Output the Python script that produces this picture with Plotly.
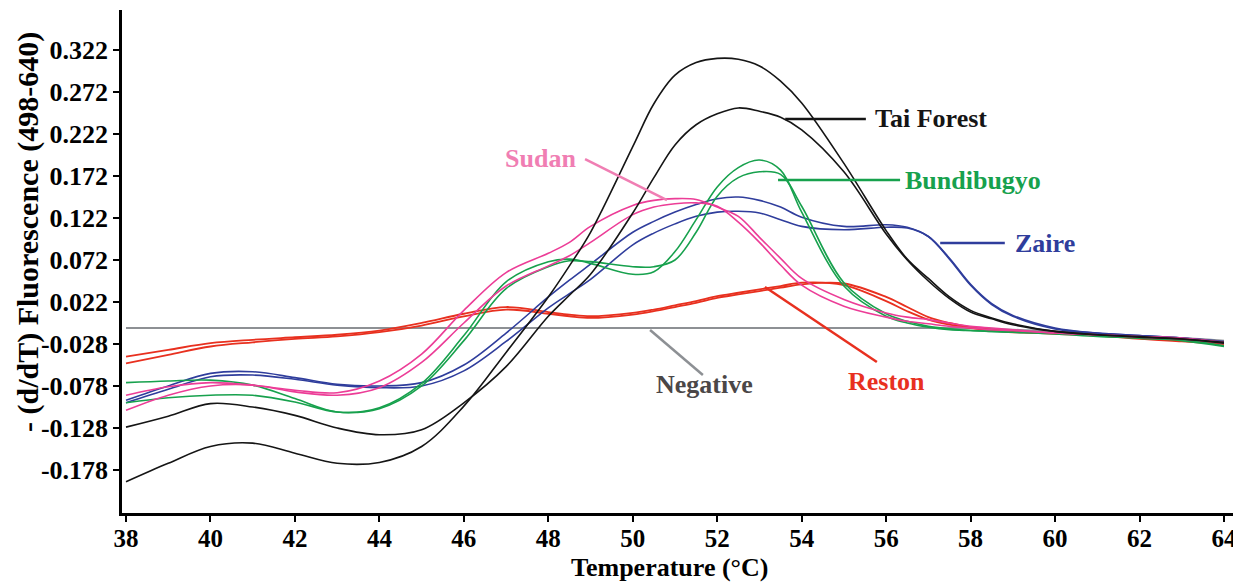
import plotly.graph_objects as go

# Temperature grid (°C)
temperature = [38, 39, 40, 41, 42, 43, 44, 45, 46, 47, 48, 48.5, 49, 50, 50.5, 51, 51.5,
               52, 52.5, 53, 53.5, 54, 55, 56, 56.5, 57, 57.5, 58, 58.5, 59, 60, 61, 62, 63, 64]

# -(d/dT) Fluorescence (498-640), two replicates per species
tai_forest_1 = [-0.192, -0.170, -0.150, -0.146, -0.158, -0.170, -0.169, -0.150, -0.102, -0.038, 0.028, 0.065,
                0.105, 0.207, 0.258, 0.292, 0.307, 0.312, 0.311, 0.303, 0.285, 0.259, 0.187, 0.107, 0.073,
                0.050, 0.028, 0.012, 0.003, -0.004, -0.013, -0.017, -0.020, -0.022, -0.027]
tai_forest_2 = [-0.127, -0.114, -0.099, -0.103, -0.113, -0.128, -0.136, -0.130, -0.098, -0.055, 0.005, 0.030,
                0.055, 0.128, 0.170, 0.209, 0.233, 0.246, 0.253, 0.249, 0.242, 0.227, 0.177, 0.103, 0.072,
                0.047, 0.026, 0.010, 0.002, -0.005, -0.013, -0.017, -0.019, -0.022, -0.026]
bundibugyo_1 = [-0.074, -0.072, -0.071, -0.077, -0.093, -0.109, -0.104, -0.075, -0.018, 0.046, 0.070, 0.073,
                0.068, 0.055, 0.058, 0.082, 0.120, 0.159, 0.182, 0.191, 0.179, 0.129, 0.041, 0.005, -0.003,
                -0.008, -0.011, -0.012, -0.013, -0.014, -0.015, -0.018, -0.021, -0.023, -0.030]
bundibugyo_2 = [-0.098, -0.092, -0.089, -0.089, -0.097, -0.109, -0.105, -0.078, -0.024, 0.038, 0.064, 0.071,
                0.070, 0.064, 0.064, 0.072, 0.105, 0.148, 0.170, 0.177, 0.174, 0.136, 0.045, 0.008, -0.001,
                -0.007, -0.010, -0.012, -0.013, -0.014, -0.016, -0.019, -0.021, -0.024, -0.031]
zaire_1 = [-0.095, -0.078, -0.063, -0.061, -0.068, -0.076, -0.078, -0.074, -0.053, -0.015, 0.028, 0.048,
           0.067, 0.105, 0.118, 0.129, 0.138, 0.145, 0.147, 0.143, 0.135, 0.123, 0.112, 0.114, 0.111,
           0.100, 0.074, 0.043, 0.020, 0.006, -0.009, -0.015, -0.018, -0.021, -0.025]
zaire_2 = [-0.098, -0.082, -0.067, -0.065, -0.070, -0.077, -0.080, -0.078, -0.060, -0.025, 0.015, 0.032,
           0.049, 0.090, 0.104, 0.115, 0.124, 0.129, 0.130, 0.128, 0.120, 0.112, 0.108, 0.111, 0.110,
           0.100, 0.073, 0.042, 0.019, 0.005, -0.010, -0.015, -0.018, -0.021, -0.026]
sudan_1 = [-0.089, -0.079, -0.074, -0.077, -0.083, -0.086, -0.072, -0.040, 0.012, 0.057, 0.080, 0.093,
           0.112, 0.137, 0.143, 0.145, 0.144, 0.135, 0.124, 0.099, 0.074, 0.050, 0.025, 0.009, 0.004,
           0.001, -0.003, -0.007, -0.009, -0.011, -0.015, -0.017, -0.019, -0.021, -0.026]
sudan_2 = [-0.107, -0.089, -0.078, -0.077, -0.085, -0.089, -0.080, -0.050, -0.003, 0.041, 0.065, 0.077,
           0.093, 0.126, 0.135, 0.139, 0.140, 0.136, 0.117, 0.093, 0.066, 0.042, 0.017, 0.004, -0.001,
           -0.004, -0.007, -0.009, -0.011, -0.012, -0.015, -0.017, -0.020, -0.022, -0.027]
reston_1 = [-0.043, -0.035, -0.027, -0.023, -0.020, -0.017, -0.012, -0.003, 0.008, 0.016, 0.010, 0.007,
            0.005, 0.009, 0.013, 0.018, 0.023, 0.029, 0.033, 0.037, 0.041, 0.045, 0.042, 0.023, 0.011,
            0.001, -0.005, -0.009, -0.012, -0.014, -0.015, -0.017, -0.021, -0.024, -0.027]
reston_2 = [-0.051, -0.041, -0.031, -0.026, -0.022, -0.019, -0.014, -0.006, 0.005, 0.013, 0.008, 0.005,
            0.003, 0.007, 0.011, 0.016, 0.021, 0.027, 0.031, 0.035, 0.039, 0.043, 0.044, 0.028, 0.016,
            0.004, -0.003, -0.008, -0.011, -0.013, -0.016, -0.018, -0.022, -0.025, -0.028]
negative = [-0.009, -0.009, -0.009, -0.009, -0.009, -0.009, -0.009, -0.009, -0.009, -0.009, -0.009, -0.009,
            -0.009, -0.009, -0.009, -0.009, -0.009, -0.009, -0.009, -0.009, -0.009, -0.009, -0.009, -0.009,
            -0.009, -0.009, -0.009, -0.009, -0.010, -0.011, -0.013, -0.016, -0.019, -0.021, -0.024]

# Axis ticks
x_ticks = list(range(38, 65, 2))
y_ticks = [0.322, 0.272, 0.222, 0.172, 0.122, 0.072, 0.022, -0.028, -0.078, -0.128, -0.178]
y_tick_text = ["0.322", "0.272", "0.222", "0.172", "0.122", "0.072", "0.022",
               "-0.028", "-0.078", "-0.128", "-0.178"]

BLACK = "#151515"
GREEN = "#17a14d"
BLUE = "#2f3d9c"
PINK = "#ec3d97"
RED = "#e8301f"
GREY = "#8d9094"

series = [
    ("Negative", negative, GREY, 2.0),
    ("Reston", reston_1, RED, 1.8),
    ("Reston", reston_2, RED, 1.8),
    ("Zaire", zaire_1, BLUE, 1.6),
    ("Zaire", zaire_2, BLUE, 1.6),
    ("Bundibugyo", bundibugyo_1, GREEN, 1.6),
    ("Bundibugyo", bundibugyo_2, GREEN, 1.6),
    ("Sudan", sudan_1, PINK, 1.6),
    ("Sudan", sudan_2, PINK, 1.6),
    ("Tai Forest", tai_forest_1, BLACK, 1.6),
    ("Tai Forest", tai_forest_2, BLACK, 1.6),
]

fig = go.Figure()
for name, vals, col, w in series:
    fig.add_trace(go.Scatter(x=temperature, y=vals, mode="lines", name=name,
                             line=dict(color=col, width=w, shape="spline", smoothing=1.0),
                             showlegend=False, hoverinfo="skip"))

FONT = "Liberation Serif, Times New Roman, serif"

# Label text, colour, anchor position, leader line (start, end)
labels = [
    ("Tai Forest", BLACK, 55.69, 0.240, "left", (53.61, 0.2399), (55.52, 0.2399)),
    ("Bundibugyo", GREEN, 56.40, 0.167, "left", (53.44, 0.1672), (56.33, 0.1672)),
    ("Zaire", BLUE, 59.00, 0.0922, "left", (57.28, 0.0922), (58.81, 0.0922)),
    ("Sudan", "#f07eb3", 48.70, 0.1934, "right", (48.87, 0.1922), (50.81, 0.1434)),
    ("Negative", "#4b4747", 51.69, -0.0768, "center", (50.41, -0.0113), (51.66, -0.0649)),
    ("Reston", RED, 56.02, -0.0732, "center", (53.13, 0.0399), (55.78, -0.0494)),
]
leader_colors = {"Sudan": "#f07eb3", "Negative": GREY}

for text, col, lx, ly, anchor, p0, p1 in labels:
    fig.add_annotation(x=lx, y=ly, xref="x", yref="y", text=text, showarrow=False,
                       xanchor=anchor, yanchor="middle",
                       font=dict(family=FONT, size=26, color=col, weight="bold"))
    fig.add_shape(type="line", xref="x", yref="y", x0=p0[0], y0=p0[1], x1=p1[0], y1=p1[1],
                  line=dict(color=leader_colors.get(text, col), width=2.5))

# Axis titles
fig.add_annotation(x=0.4897, y=-0.108, xref="paper", yref="paper", text="Temperature (°C)",
                   showarrow=False, xanchor="center", yanchor="middle",
                   font=dict(family=FONT, size=26, color="black", weight="bold"))
fig.add_annotation(x=-0.084, y=0.5586, xref="paper", yref="paper",
                   text="- (d/dT) Fluorescence (498-640)", textangle=-90,
                   showarrow=False, xanchor="center", yanchor="middle",
                   font=dict(family=FONT, size=30, color="black", weight="bold"))

fig.update_xaxes(range=[37.905, 64.403], tickvals=x_ticks, ticks="outside", ticklen=6, tickwidth=2,
                 tickcolor="black", showline=True, linewidth=2.5, linecolor="black",
                 showgrid=False, zeroline=False, ticklabelstandoff=-5,
                 tickfont=dict(family=FONT, size=25, color="black", weight="bold"))
fig.update_yaxes(range=[-0.2292, 0.3696], tickvals=y_ticks, ticktext=y_tick_text, ticks="outside",
                 ticklen=6, tickwidth=2, tickcolor="black", showline=True, linewidth=2.5,
                 linecolor="black", showgrid=False, zeroline=False,
                 tickfont=dict(family=FONT, size=26, color="black", weight="bold"))

# The page body adds an 8px margin, so the figure is sized to fill the rest of the window
fig.update_layout(width=1233, height=576, margin=dict(l=114, r=0, t=2, b=71, autoexpand=False),
                  plot_bgcolor="white", paper_bgcolor="white", showlegend=False)

fig.write_html("out.html")
